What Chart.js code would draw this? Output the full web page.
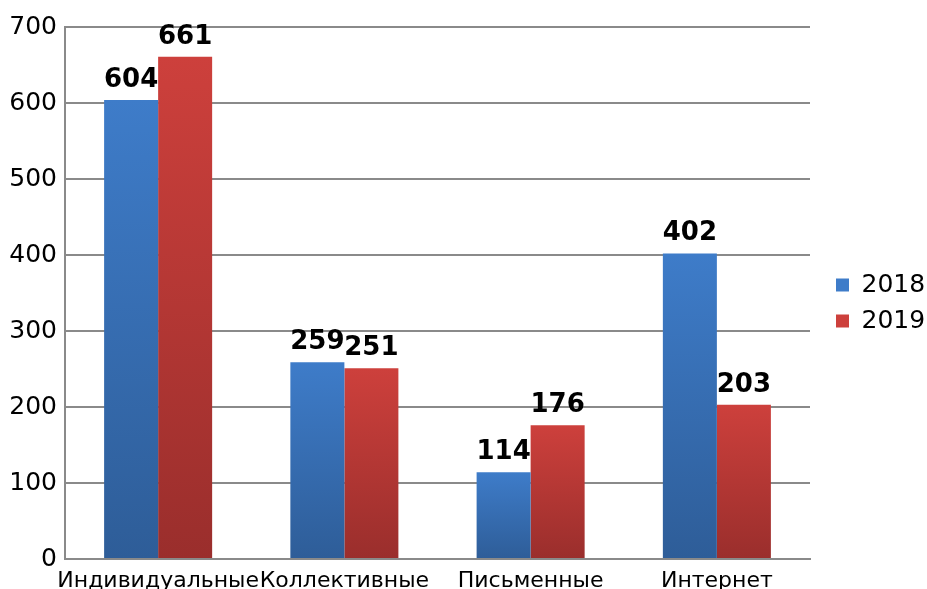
<!DOCTYPE html>
<html>
<head>
<meta charset="utf-8">
<script src="https://cdn.jsdelivr.net/npm/chart.js@4/dist/chart.umd.min.js"></script>
<style>
  html, body { margin: 0; padding: 0; background: #fff; }
  #wrap { width: 927px; height: 589px; }
</style>
</head>
<body>
<div id="wrap"><canvas id="chart"></canvas></div>
<script>
const categories = ["Индивидуальные", "Коллективные", "Письменные", "Интернет"];
const values2018 = [604, 259, 114, 402];
const values2019 = [661, 251, 176, 203];
const yTicks = [0, 100, 200, 300, 400, 500, 600, 700];

const blueFill = ["#3e7cc9", "#2e5d98"];
const redFill = ["#cd403c", "#9a2e2c"];

// vertical gradient for each bar, from its top down to the base
function barGradient(colors) {
  return function (context) {
    const chart = context.chart;
    if (!chart.chartArea || context.parsed == null) return colors[0];
    const yScale = chart.scales.y;
    const y0 = yScale.getPixelForValue(context.parsed.y);
    const y1 = yScale.getPixelForValue(0);
    if (y1 - y0 < 1) return colors[0];
    const g = chart.ctx.createLinearGradient(0, y0, 0, y1);
    g.addColorStop(0, colors[0]);
    g.addColorStop(1, colors[1]);
    return g;
  };
}

// value labels above the bars
const valueLabels = {
  id: "valueLabels",
  afterDatasetsDraw(chart) {
    const ctx = chart.ctx;
    ctx.save();
    ctx.font = "bold 26px 'DejaVu Sans'";
    ctx.fillStyle = "#000";
    ctx.textAlign = "center";
    ctx.textBaseline = "alphabetic";
    chart.data.datasets.forEach(function (ds, i) {
      chart.getDatasetMeta(i).data.forEach(function (bar, j) {
        ctx.fillText(String(ds.data[j]), bar.x, bar.y - 13);
      });
    });
    ctx.restore();
  }
};

// legend sits a bit away from the plot, like the original
const legendGap = {
  id: "legendGap",
  beforeLayout(chart) {
    const lg = chart.legend;
    if (!lg || lg._patched) return;
    const fit = lg.fit;
    lg.fit = function () { fit.call(this); this.width = 117; };
    lg._patched = true;
  },
  afterLayout(chart) {
    const lg = chart.legend;
    if (!lg) return;
    lg.left += 15;
    lg.top -= 5;
    lg.bottom -= 5;
  }
};

new Chart(document.getElementById("chart"), {
  type: "bar",
  data: {
    labels: categories,
    datasets: [
      { label: "2018", data: values2018, backgroundColor: barGradient(blueFill), borderWidth: 0 },
      { label: "2019", data: values2019, backgroundColor: barGradient(redFill), borderWidth: 0 },
    ],
  },
  options: {
    responsive: true,
    maintainAspectRatio: false,
    animation: false,
    layout: { padding: { top: 27, right: 0, left: 0, bottom: 0 } },
    datasets: {
      bar: { categoryPercentage: 0.58, barPercentage: 1.0 },
    },
    plugins: {
      tooltip: { enabled: false },
      legend: {
        position: "right",
        labels: {
          color: "#000",
          font: { family: "'DejaVu Sans'", size: 25 },
          boxWidth: 13,
          boxHeight: 13,
          padding: 11,
          generateLabels(chart) {
            const fills = [blueFill, redFill];
            return chart.data.datasets.map(function (ds, i) {
              return {
                text: ds.label,
                fillStyle: fills[i][0],
                strokeStyle: fills[i][0],
                lineWidth: 0,
                datasetIndex: i,
                fontColor: "#000",
              };
            });
          },
        },
      },
    },
    scales: {
      x: {
        grid: { display: false, drawTicks: false },
        border: { display: true, color: "#8a8a8a", width: 2 },
        ticks: {
          color: "#000",
          font: { family: "'DejaVu Sans'", size: 22 },
          padding: 9,
          maxRotation: 0,
          autoSkip: false,
        },
        afterFit(scale) { scale.height = 30; },
      },
      y: {
        min: 0,
        max: 700,
        afterBuildTicks(scale) {
          scale.ticks = yTicks.map(function (v) { return { value: v }; });
        },
        grid: { color: "#8a8a8a", lineWidth: 2, drawTicks: false },
        border: { display: true, color: "#8a8a8a", width: 2 },
        ticks: {
          color: "#000",
          font: { family: "'DejaVu Sans'", size: 25 },
          padding: 8,
        },
        afterFit(scale) { scale.width = 65; },
      },
    },
  },
  plugins: [valueLabels, legendGap],
});
</script>
</body>
</html>
